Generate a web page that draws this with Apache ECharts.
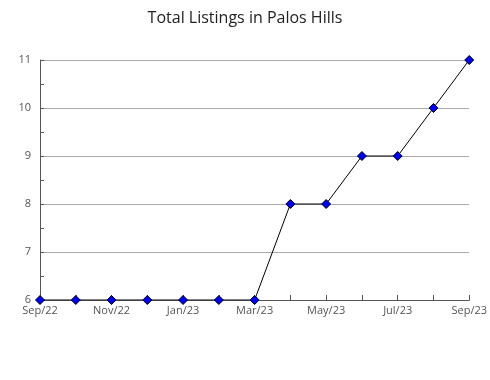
<!DOCTYPE html>
<html>
<head>
<meta charset="utf-8">
<script src="https://cdn.jsdelivr.net/npm/echarts@6/dist/echarts.min.js"></script>
<style>html,body{margin:0;padding:0;background:#fff}#c{width:490px;height:380px}</style>
</head>
<body>
<div id="c"></div>
<script>
const titleText = "Total Listings in Palos Hills";
const categories = ["Sep/22","Oct/22","Nov/22","Dec/22","Jan/23","Feb/23","Mar/23","Apr/23","May/23","Jun/23","Jul/23","Aug/23","Sep/23"];
const listings = [6,6,6,6,6,6,6,8,8,9,9,10,11];
const yMin = 6, yMax = 11, yStep = 1;

const chart = echarts.init(document.getElementById('c'), null, {renderer:'canvas'});
chart.setOption({
  animation:false,
  title:{text:titleText,left:'center',top:5,textStyle:{fontFamily:'Open Sans',fontWeight:'normal',fontSize:16,color:'#222'}},
  grid:{left:40,right:18,top:60,bottom:80},
  xAxis:{type:'category',data:categories,boundaryGap:false,
    axisLine:{lineStyle:{color:'#555',width:1}},
    axisTick:{show:true,inside:true,length:5,interval:0,lineStyle:{color:'#555'}},
    axisLabel:{interval:1,color:'#555',fontFamily:'Open Sans',fontSize:11,margin:5},
    splitLine:{show:false}},
  yAxis:{type:'value',min:yMin,max:yMax,interval:yStep,
    axisLine:{show:true,lineStyle:{color:'#555',width:1}},
    axisTick:{show:true,inside:true,length:4,lineStyle:{color:'#555'}},
    minorTick:{show:true,splitNumber:2,length:4,lineStyle:{color:'#555'}},
    axisLabel:{color:'#555',fontFamily:'Open Sans',fontSize:11,margin:9},
    splitLine:{show:true,lineStyle:{color:'#aaa',width:1}}},
  series:[{type:'line',data:listings,symbol:'diamond',symbolSize:9,
    lineStyle:{color:'#000',width:1},
    itemStyle:{color:'#0000ff',borderColor:'#000',borderWidth:1}}]
});
</script>
</body>
</html>
